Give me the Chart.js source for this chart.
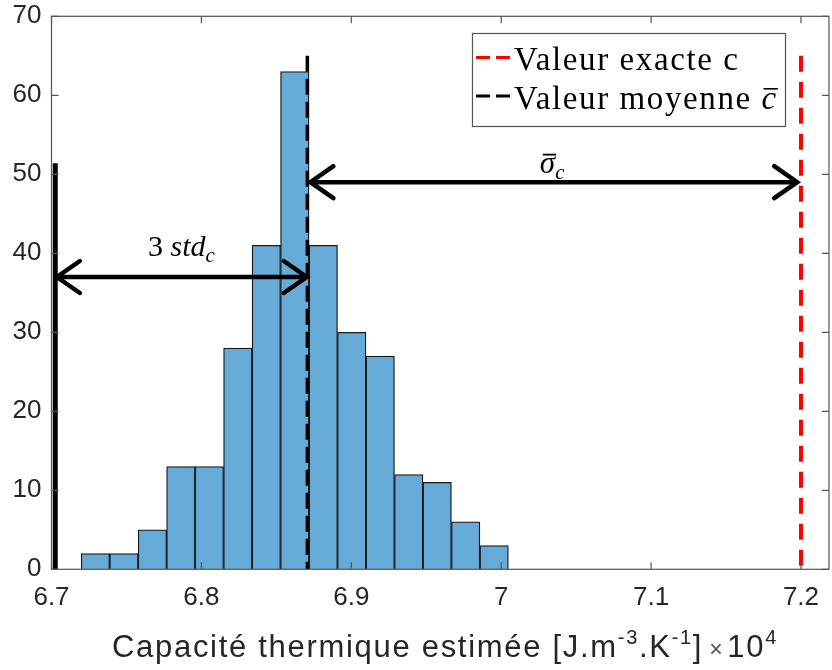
<!DOCTYPE html>
<html><head><meta charset="utf-8">
<script src="https://cdn.jsdelivr.net/npm/chart.js@4"></script>
<style>html,body{margin:0;padding:0;background:#fff}#wrap{width:832px;height:670px}</style>
</head><body><div id="wrap"><canvas id="c" width="832" height="670"></canvas></div>
<script>
// ---- data ----
const binCenters = [6.7293, 6.7483, 6.7673, 6.7863, 6.8053, 6.8243, 6.8433, 6.8623, 6.8813, 6.9003, 6.9193, 6.9383, 6.9573, 6.9763, 6.9953];
const counts = [2, 2, 5, 13, 13, 28, 41, 63, 41, 30, 27, 12, 11, 6, 3];
const exactValue = 7.2;
const meanValue = 6.8707;
const lowerBound = 6.7025;
const refLineTop = 65;
const lowerBoundTop = 51.4;
const stdArrowX = [6.7036, 6.8703];
const stdArrowY = 37;
const sigmaArrowX = [6.8727, 7.1975];
const sigmaArrowY = 49;
const stdLabelPos = [6.7867, 39.6];
const sigmaLabelPos = [7.034, 50.2];
const xTickValues = [6.7, 6.8, 6.9, 7.0, 7.1, 7.2];
const xTickLabels = ['6.7', '6.8', '6.9', '7', '7.1', '7.2'];
const yTickValues = [0, 10, 20, 30, 40, 50, 60, 70];
const yTickLabels = ['0', '10', '20', '30', '40', '50', '60', '70'];
const legendLabels = ['Valeur exacte c', 'Valeur moyenne'];
const xTitleParts = ['Capacité thermique estimée [J.m', '-3', '.K', '-1', ']', '×', '10', '4'];

const SANS = '"Liberation Sans", Arial, sans-serif';
const SERIF = '"Liberation Serif", "Times New Roman", serif';
const AX = '#262626';

function drawRich(ctx, segs, x, y, align) {
  let w = 0;
  segs.forEach(s => { ctx.font = s.font; s.w = ctx.measureText(s.text).width + (s.gap || 0); w += s.w; });
  let cx = align === 'center' ? x - w / 2 : x;
  ctx.textAlign = 'left'; ctx.textBaseline = 'alphabetic';
  segs.forEach(s => {
    ctx.font = s.font; ctx.fillStyle = s.color || '#000';
    ctx.fillText(s.text, cx, y + (s.dy || 0));
    s.x0 = cx;
    cx += s.w;
  });
  return segs;
}

const overlay = {
  id: 'overlay',
  afterDraw(chart) {
    const ctx = chart.ctx, xs = chart.scales.x, ys = chart.scales.y, a = chart.chartArea;
    ctx.save();
    // box + inward ticks
    ctx.strokeStyle = '#555'; ctx.lineWidth = 1.2;
    ctx.strokeRect(a.left, a.top, a.right - a.left, a.bottom - a.top);
    ctx.beginPath();
    xTickValues.forEach(v => {
      const p = xs.getPixelForValue(v);
      ctx.moveTo(p, a.bottom); ctx.lineTo(p, a.bottom - 7);
      ctx.moveTo(p, a.top); ctx.lineTo(p, a.top + 7);
    });
    yTickValues.forEach(v => {
      const p = ys.getPixelForValue(v);
      ctx.moveTo(a.left, p); ctx.lineTo(a.left + 7, p);
      ctx.moveTo(a.right, p); ctx.lineTo(a.right - 7, p);
    });
    ctx.stroke();

    // arrow heads
    ctx.strokeStyle = '#000'; ctx.lineWidth = 4.5; ctx.lineCap = 'round'; ctx.lineJoin = 'miter';
    function head(xv, yv, dir) {
      const px = xs.getPixelForValue(xv), py = ys.getPixelForValue(yv);
      ctx.beginPath();
      ctx.moveTo(px + dir * 23, py - 16); ctx.lineTo(px, py); ctx.lineTo(px + dir * 23, py + 16);
      ctx.stroke();
    }
    head(stdArrowX[0], stdArrowY, 1); head(stdArrowX[1], stdArrowY, -1);
    head(sigmaArrowX[0], sigmaArrowY, 1); head(sigmaArrowX[1], sigmaArrowY, -1);
    ctx.lineCap = 'butt';

    // 3 std_c label
    drawRich(ctx, [
      { text: '3 ', font: '30px ' + SERIF },
      { text: 'std', font: 'italic 30px ' + SERIF },
      { text: 'c', font: 'italic 21px ' + SERIF, dy: 6 }
    ], xs.getPixelForValue(stdLabelPos[0]), ys.getPixelForValue(stdLabelPos[1]), 'center');

    // sigma bar label
    const sg = drawRich(ctx, [
      { text: 'σ', font: 'italic 31px ' + SERIF },
      { text: 'c', font: 'italic 21px ' + SERIF, dy: 6 }
    ], xs.getPixelForValue(sigmaLabelPos[0]), ys.getPixelForValue(sigmaLabelPos[1]), 'center');
    ctx.fillStyle = '#000';
    const sy = ys.getPixelForValue(sigmaLabelPos[1]);
    ctx.fillRect(sg[0].x0 + 3, sy - 19, sg[0].w - 2, 1.8);

    // legend
    const L = { x: 472.5, y: 33.5, w: 313, h: 93 };
    ctx.fillStyle = '#fff'; ctx.fillRect(L.x, L.y, L.w, L.h);
    ctx.strokeStyle = '#555'; ctx.lineWidth = 1.2; ctx.strokeRect(L.x, L.y, L.w, L.h);
    const rows = [{ c: '#FF0000', y: 57.5, base: 70 }, { c: '#000', y: 96, base: 109 }];
    rows.forEach((r, i) => {
      ctx.strokeStyle = r.c; ctx.lineWidth = 3;
      ctx.beginPath();
      ctx.moveTo(476, r.y); ctx.lineTo(490, r.y);
      ctx.moveTo(496, r.y); ctx.lineTo(510, r.y);
      ctx.stroke();
      ctx.fillStyle = '#000';
      ctx.letterSpacing = '1.6px';
      ctx.font = '33px ' + SERIF; ctx.textAlign = 'left'; ctx.textBaseline = 'alphabetic';
      ctx.fillText(legendLabels[i], 514, r.base);
      if (i === 1) {
        const w = ctx.measureText(legendLabels[i] + ' ').width;
        ctx.font = 'italic 33px ' + SERIF;
        ctx.fillText('c', 514 + w, r.base);
        const cw = ctx.measureText('c').width;
        ctx.fillRect(514 + w + 2, r.base - 21, cw - 2, 1.6);
      }
      ctx.letterSpacing = '0px';
    });

    // x title
    ctx.letterSpacing = '1.7px';
    drawRich(ctx, [
      { text: xTitleParts[0], font: '31px ' + SANS, color: AX },
      { text: xTitleParts[1], font: '20px ' + SANS, color: AX, dy: -13 },
      { text: xTitleParts[2], font: '31px ' + SANS, color: AX },
      { text: xTitleParts[3], font: '20px ' + SANS, color: AX, dy: -13 },
      { text: xTitleParts[4], font: '31px ' + SANS, color: AX, gap: 6 },
      { text: xTitleParts[5], font: '23px ' + SANS, color: '#555', gap: 3 },
      { text: xTitleParts[6], font: '31px ' + SANS, color: AX },
      { text: xTitleParts[7], font: '20px ' + SANS, color: AX, dy: -13 }
    ], 445, 657, 'center');
    ctx.letterSpacing = '0px';
    ctx.restore();
  }
};

const vline = (x, top, color, width, dash, label) => ({
  type: 'line', label: label,
  data: [{ x: x, y: top }, { x: x, y: 0 }],
  borderColor: color, borderWidth: width, borderDash: dash || [], pointRadius: 0,
  tension: 0, borderCapStyle: 'butt', order: 1
});
const hline = (xr, y) => ({
  type: 'line', label: '',
  data: [{ x: xr[0], y: y }, { x: xr[1], y: y }],
  borderColor: '#000', borderWidth: 4.5, pointRadius: 0, tension: 0, borderCapStyle: 'butt', order: 1
});
const zeroPad = s => { s.paddingTop = 0; s.paddingBottom = 0; s.paddingLeft = 0; s.paddingRight = 0; };

new Chart(document.getElementById('c'), {
  type: 'bar',
  data: {
    datasets: [
      vline(exactValue, refLineTop, '#FF0000', 4, [16, 10], legendLabels[0]),
      vline(meanValue, refLineTop, '#000', 3.5, [16, 7], legendLabels[1]),
      vline(lowerBound, lowerBoundTop, '#000', 5, [], ''),
      hline(stdArrowX, stdArrowY),
      hline(sigmaArrowX, sigmaArrowY),
      {
        type: 'bar', label: 'hist',
        data: binCenters.map((x, i) => ({ x: x, y: counts[i] })),
        backgroundColor: '#66AAD7', borderColor: '#1a1a1a', borderWidth: 1.3,
        barPercentage: 1, categoryPercentage: 1, order: 10
      }
    ]
  },
  options: {
    responsive: false, animation: false, devicePixelRatio: 1,
    layout: { autoPadding: false, padding: { left: 0, right: 3, top: 16.3, bottom: 0 } },
    plugins: { legend: { display: false }, tooltip: { enabled: false } },
    scales: {
      x: {
        type: 'linear', min: 6.7, max: 7.2187, offset: false,
        grid: { display: false, drawTicks: false }, border: { display: false },
        afterBuildTicks: s => { s.ticks = xTickValues.map(v => ({ value: v })); },
        ticks: { callback: (v, i) => xTickLabels[i], font: { family: SANS, size: 26 }, color: AX, padding: 13, maxRotation: 0, autoSkip: false },
        afterFit: s => { s.height = 100.7; zeroPad(s); }
      },
      y: {
        min: 0, max: 70,
        grid: { display: false, drawTicks: false }, border: { display: false },
        afterBuildTicks: s => { s.ticks = yTickValues.map(v => ({ value: v })); },
        ticks: { callback: (v, i) => yTickLabels[i], font: { family: SANS, size: 26 }, color: AX, padding: 10, autoSkip: false },
        afterFit: s => { s.width = 51.5; zeroPad(s); }
      }
    }
  },
  plugins: [overlay]
});
</script></body></html>
